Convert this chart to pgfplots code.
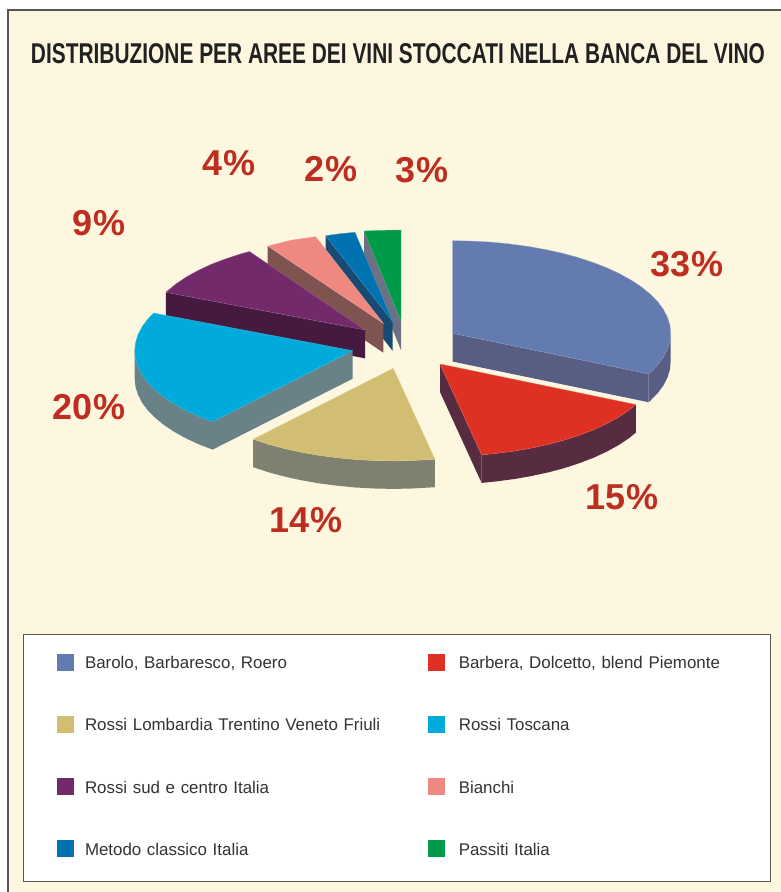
\documentclass[border=0pt]{standalone}
\usepackage{graphicx}
\usepackage{fontspec}
\setmainfont{Liberation Sans}
\usepackage{pgfplots}
\pgfplotsset{compat=1.18}
\definecolor{bg}{HTML}{FEF7E0}
\definecolor{frame}{HTML}{555555}
\definecolor{lab}{HTML}{BE2E20}
\definecolor{cA}{HTML}{647BB0}\definecolor{sA}{HTML}{575D83}
\definecolor{cB}{HTML}{DE3124}\definecolor{sB}{HTML}{582C40}
\definecolor{cC}{HTML}{D2BE72}\definecolor{sC}{HTML}{7F8170}
\definecolor{cD}{HTML}{00ABDB}\definecolor{sD}{HTML}{688288}
\definecolor{cE}{HTML}{732A6B}\definecolor{sE}{HTML}{46193F}
\definecolor{cF}{HTML}{EE8881}\definecolor{sF}{HTML}{7F534F}
\definecolor{cG}{HTML}{0072B0}\definecolor{sG}{HTML}{184B74}
\definecolor{cH}{HTML}{009B48}\definecolor{sH}{HTML}{6C7186}
\newcommand{\wall}[2]{\addplot[fill=#1,draw=none,forget plot] coordinates {#2};}
\newcommand{\face}[2]{\addplot[fill=#1,draw=#1!75!white,line width=0.3pt,forget plot] coordinates {#2};}
\newcommand{\pct}[3]{\node[font=\bfseries\fontsize{36}{36}\selectfont,text=lab,anchor=center] at (axis cs:#1,#2) {#3};}
\begin{document}
\begin{tikzpicture}
\begin{axis}[
  scale only axis, width=781pt, height=892pt,
  xmin=0, xmax=781, ymin=0, ymax=892, y dir=reverse,
  hide axis,
  legend columns=2,
  legend cell align=left,
  legend image code/.code={\fill[draw=none,#1] (0pt,-4.5pt) rectangle (17pt,12.5pt);},
  legend style={
    at={(axis cs:23.3,634)}, anchor=north west,
    draw=frame, line width=1pt, fill=white,
    inner xsep=33.2pt, inner ysep=19.5pt,
    row sep=40.9pt,
    /tikz/column 1/.style={column sep=11pt},
    /tikz/column 2/.style={column sep=64.5pt},
    /tikz/column 3/.style={column sep=14pt},
    nodes={inner sep=0pt, text depth=6.4pt, text height=11pt, text width=278.3pt, align=left, text=black!80,
           font=\fontsize{16.9}{18}\selectfont},
  },
]
% page and panel
\addplot[fill=white,draw=none,forget plot] coordinates {(0,0)(781,0)(781,892)(0,892)};
\addplot[fill=bg,draw=none,forget plot] coordinates {(8,10)(781,10)(781,892)(8,892)};
\addplot[draw=frame,line width=1.4pt,forget plot] coordinates {(8,892)(8,10)(781,10)};

% legend
\addlegendimage{fill=cA,draw=none}\addlegendentry{Barolo, Barbaresco, Roero}
\addlegendimage{fill=cB,draw=none}\addlegendentry{Barbera, Dolcetto, blend Piemonte}
\addlegendimage{fill=cC,draw=none}\addlegendentry{\mbox{Rossi Lombardia Trentino Veneto Friuli}}
\addlegendimage{fill=cD,draw=none}\addlegendentry{Rossi Toscana}
\addlegendimage{fill=cE,draw=none}\addlegendentry{Rossi sud e centro Italia}
\addlegendimage{fill=cF,draw=none}\addlegendentry{Bianchi}
\addlegendimage{fill=cG,draw=none}\addlegendentry{Metodo classico Italia}
\addlegendimage{fill=cH,draw=none}\addlegendentry{Passiti Italia}

% Passiti 3%
\wall{sH}{(364,231)(401,321)(401,350)(364,260)}
\face{cH}{(364,231)(382,230.3)(401,230)(401,321)(364,231)}
% Metodo classico 2%
\wall{sG}{(325.7,235.7)(392.7,321.7)(392.7,351)(325.7,264.7)}
\face{cG}{(325.7,235.7)(340,233.7)(355,232.3)(392.7,321.7)(325.7,235.7)}
% Bianchi 4%
\wall{sF}{(267.7,246)(383.3,323.3)(383.3,352.7)(267.7,274)}
\face{cF}{(267.7,246)(291,240.2)(315.7,236.7)(383.3,323.3)(267.7,246)}
% Rossi sud 9%
\wall{sE}{(165.8,292.3)(365,330)(365,358.3)(165.8,320.6)}
\face{cE}{(165.8,292.3)(176.2,283.7)(186.4,276.9)(198,270.5)(210.8,264.5)(224.9,259.1)(240,254.1)(249.5,251.5)(365,330)(165.8,292.3)}
% Rossi Toscana 20%
\wall{sD}{(352.7,350.7)(352.7,378.7)(212.6,449.6)(198.5,444.2)(185.7,438.2)(174.1,431.8)(163.9,425)(155.1,417.8)(147.8,410.4)(142.1,402.7)(138,394.8)(135.5,386.8)(134.7,378.7)(134.7,350.7)(212.6,421.6)}
\face{cD}{(352.7,350.7)(212.6,421.6)(198.5,416.2)(185.7,410.2)(174.1,403.8)(163.9,397)(155.1,389.8)(147.8,382.4)(142.1,374.7)(138,366.8)(135.5,358.8)(134.7,350.7)(135.5,342.6)(138,334.6)(142.1,326.7)(147.8,319)(153.5,313)(352.7,350.7)}
% Rossi Lombardia 14%
\wall{sC}{(434.9,459.2)(412.3,460.5)(393.3,460.9)(374.3,460.5)(355.4,459.5)(336.9,457.7)(318.7,455.3)(301.2,452.2)(284.3,448.5)(268.3,444.2)(253.2,439.2)(253.2,467.2)(268.3,472.2)(284.3,476.5)(301.2,480.2)(318.7,483.3)(336.9,485.7)(355.4,487.5)(374.3,488.5)(393.3,488.9)(412.3,488.5)(434.9,487.2)}
\face{cC}{(393.3,368.3)(434.9,459.2)(412.3,460.5)(393.3,460.9)(374.3,460.5)(355.4,459.5)(336.9,457.7)(318.7,455.3)(301.2,452.2)(284.3,448.5)(268.3,444.2)(253.2,439.2)(393.3,368.3)}
% Barbera 15%
\wall{sB}{(635.9,404.6)(628.8,410.3)(618.6,417.1)(607,423.5)(594.2,429.5)(580.1,434.9)(565,439.9)(549,444.2)(532.1,447.9)(514.6,451)(496.4,453.4)(481.6,454.9)(481.6,482.9)(496.4,481.4)(514.6,479)(532.1,475.9)(549,472.2)(565,467.9)(580.1,462.9)(594.2,457.5)(607,451.5)(618.6,445.1)(628.8,438.3)(635.9,432.6)}
\wall{sB}{(440,364)(481.6,454.9)(481.6,482.9)(440,392)}
\face{cB}{(440,364)(635.9,404.6)(628.8,410.3)(618.6,417.1)(607,423.5)(594.2,429.5)(580.1,434.9)(565,439.9)(549,444.2)(532.1,447.9)(514.6,451)(496.4,453.4)(481.6,454.9)(440,364)}
% Barolo 33%
\wall{sA}{(452.7,333.3)(648.6,373.9)(648.6,402.2)(452.7,361.6)}
\wall{sA}{(670.7,333.3)(669.9,341.4)(667.4,349.4)(663.3,357.3)(657.6,365)(650.3,372.4)(648.6,373.9)(648.6,402.2)(650.3,400.7)(657.6,393.3)(663.3,385.6)(667.4,377.7)(669.9,369.7)(670.7,361.6)}
\face{cA}{(452.7,333.3)(452.7,240.7)(471.7,241.1)(490.6,242.1)(509.1,243.9)(527.3,246.3)(544.8,249.4)(561.7,253.1)(577.7,257.4)(592.8,262.4)(606.9,267.8)(619.7,273.8)(631.3,280.2)(641.5,287)(650.3,294.2)(657.6,301.6)(663.3,309.3)(667.4,317.2)(669.9,325.2)(670.7,333.3)(669.9,341.4)(667.4,349.4)(663.3,357.3)(657.6,365)(650.3,372.4)(648.6,373.9)(452.7,333.3)}

% percentage labels
\pct{687}{264}{33\%}
\pct{622}{497}{15\%}
\pct{306}{520}{14\%}
\pct{89}{407}{20\%}
\pct{99}{223}{9\%}
\pct{229}{163}{4\%}
\pct{331}{169}{2\%}
\pct{422}{170}{3\%}
% title
\node[anchor=center,text={black!87}] at (axis cs:398,54) {\resizebox{734pt}{20pt}{\bfseries DISTRIBUZIONE PER AREE DEI VINI STOCCATI NELLA BANCA DEL VINO}};
\end{axis}
\end{tikzpicture}
\end{document}
